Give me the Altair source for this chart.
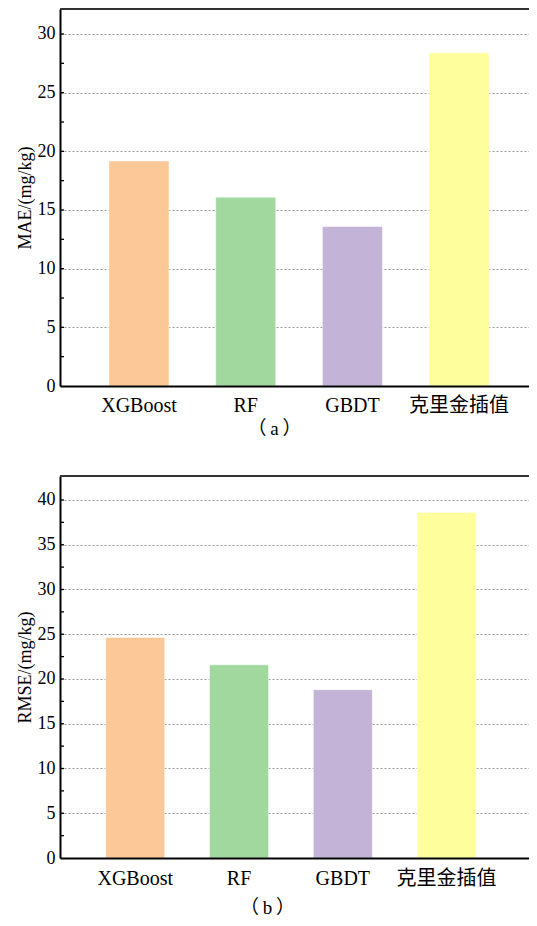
import altair as alt
import pandas as pd

models = ["XGBoost", "RF", "GBDT", "克里金插值"]
mae = [19.18, 16.09, 13.6, 28.4]
rmse = [24.63, 21.58, 18.8, 38.6]
colors = ["#FCC897", "#A0D89E", "#C3B3D6", "#FEFE9C"]
mae_major = [0, 5, 10, 15, 20, 25, 30]
rmse_major = [0, 5, 10, 15, 20, 25, 30, 35, 40]
mae_ticks = [2.5, 5, 7.5, 10, 12.5, 15, 17.5, 20, 22.5, 25, 27.5, 30]
rmse_ticks = [2.5, 5, 7.5, 10, 12.5, 15, 17.5, 20, 22.5, 25, 27.5, 30, 32.5, 35, 37.5, 40]
captions = ["（\u2009a\u2009）", "（\u2009b\u2009）"]

FONT = "'Liberation Serif', 'Noto Sans CJK SC', serif"


def panel(values, ytitle, caption, ymax, major, ticks, width, height,
          pi, po, align, label_pad, title_pad, title_x):
    df = pd.DataFrame({"model": models, "value": values, "color": colors})
    tdf = pd.DataFrame({"v": ticks})
    yscale = alt.Scale(domain=[0, ymax], nice=False, zero=True)
    x = alt.X(
        "model:N", sort=models,
        scale=alt.Scale(paddingInner=pi, paddingOuter=po, align=align),
        axis=alt.Axis(
            title=caption, labelAngle=0, ticks=False, domainColor="black",
            domainWidth=2, labelFont=FONT, labelFontSize=20, labelColor="black",
            labelPadding=label_pad, titleFont=FONT, titleFontSize=19,
            titleFontWeight="normal", titleColor="black", titlePadding=title_pad,
            titleX=title_x, zindex=1,
        ),
    )
    y = alt.Y(
        "value:Q", scale=yscale,
        axis=alt.Axis(
            title=ytitle, values=major, ticks=False, domainColor="black",
            domainWidth=2, labelFont=FONT, labelFontSize=18, labelColor="black",
            labelPadding=5, titleFont=FONT, titleFontSize=18,
            titleFontWeight="normal", titleColor="black", titlePadding=3,
            grid=True, gridDash=[2, 2], gridColor="#999999", gridWidth=1,
        ),
    )
    bars = alt.Chart(df).mark_bar(stroke="white", strokeWidth=0.8, strokeOpacity=0.6).encode(
        x=x, y=y,
        color=alt.Color("color:N", scale=None),
    )
    tick_layer = alt.Chart(tdf).mark_rule(color="black", strokeWidth=1.3).encode(
        y=alt.Y("v:Q", scale=yscale, title=ytitle),
        x=alt.value(0), x2=alt.value(4),
    )
    top_line = alt.Chart(tdf).mark_rule(color="#333333", strokeWidth=2).encode(
        x=alt.value(0), x2=alt.value(width), y=alt.value(0),
    )
    return alt.layer(bars, tick_layer, top_line).properties(width=width, height=height)


top = panel(mae, "MAE/(mg/kg)", captions[0], 32.13, mae_major, mae_ticks, 476, 377,
            0.4377, 0.4494, 0.511, 9, 4, 214)
bottom = panel(rmse, "RMSE/(mg/kg)", captions[1], 42.68, rmse_major, rmse_ticks, 476, 382,
               0.4316, 0.5087, 0.433, 10, 10, 207)

chart = alt.vconcat(top, bottom, spacing=37).properties(
    padding={"left": 8, "top": 0, "right": -8, "bottom": 0}
).configure_view(stroke=None)

chart.save("out.html", embed_options={"renderer": "svg", "actions": False})
